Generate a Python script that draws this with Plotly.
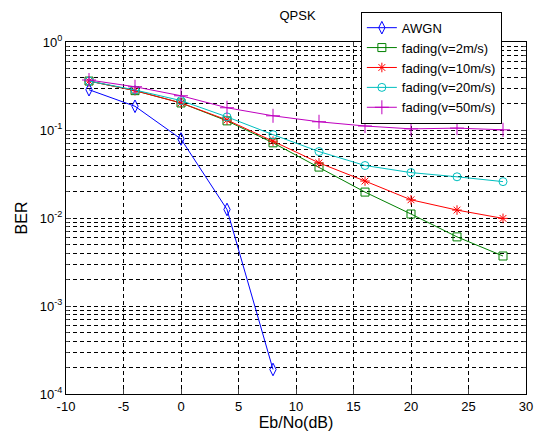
import plotly.graph_objects as go

# ---- data ----
snr_awgn = [-8, -4, 0, 4, 8]
ber_awgn = [0.287, 0.186, 0.079, 0.0125, 1.9e-4]

snr_fading = [-8, -4, 0, 4, 8, 12, 16, 20, 24, 28]
ber_v2 = [0.36, 0.28, 0.203, 0.127, 0.0715, 0.0379, 0.0197, 0.0111, 0.0061, 0.0037]
ber_v10 = [0.36, 0.28, 0.203, 0.13, 0.0746, 0.0423, 0.0263, 0.0161, 0.0123, 0.0099]
ber_v20 = [0.36, 0.285, 0.216, 0.141, 0.0885, 0.0569, 0.0395, 0.0328, 0.0294, 0.0259]
ber_v50 = [0.37, 0.31, 0.245, 0.179, 0.145, 0.124, 0.111, 0.103, 0.105, 0.1005]

x_ticks = [-10, -5, 0, 5, 10, 15, 20, 25, 30]
x_ticktext = ["-10", "-5", "0", "5", "10", "15", "20", "25", "30"]
y_tickvals = [1e-4, 1e-3, 1e-2, 1e-1, 1]
y_ticktext = ["10<sup>-4</sup>", "10<sup>-3</sup>", "10<sup>-2</sup>", "10<sup>-1</sup>", "10<sup>0</sup>"]

FONT = "Arial, Liberation Sans, sans-serif"

series = [
    ("AWGN", snr_awgn, ber_awgn, "#0000FF", "diamond-tall-open", 9),
    ("fading(v=2m/s)", snr_fading, ber_v2, "#008000", "square-open", 8),
    ("fading(v=10m/s)", snr_fading, ber_v10, "#FF0000", "asterisk-open", 8),
    ("fading(v=20m/s)", snr_fading, ber_v20, "#00BFBF", "circle-open", 8),
    ("fading(v=50m/s)", snr_fading, ber_v50, "#BF00BF", "cross-thin-open", 10),
]

fig = go.Figure()
for name, xs, ys, col, sym, sz in series:
    fig.add_trace(go.Scatter(
        x=xs, y=ys, name=name, mode="lines+markers",
        line=dict(color=col, width=1),
        marker=dict(symbol=sym, size=sz, color=col, line=dict(color=col, width=1)),
    ))

grid_dash = "4px,3px"
fig.update_layout(
    width=545, height=441,
    margin=dict(l=66, r=16, t=33, b=46),
    paper_bgcolor="white", plot_bgcolor="white",
    font=dict(family=FONT, size=13, color="black"),
    title=dict(text="QPSK", x=(66 + 529) / 2 / 545, xanchor="center",
               y=1 - 15 / 441, yanchor="middle", yref="container",
               font=dict(size=13, family=FONT, color="black")),
    showlegend=True,
    legend=dict(x=0.641, y=1.086, xanchor="left", yanchor="top",
                bgcolor="white", bordercolor="black", borderwidth=1,
                font=dict(size=13, family=FONT), tracegroupgap=0),
    xaxis=dict(
        range=[-10, 30], tickvals=x_ticks, ticktext=x_ticktext,
        ticks="inside", ticklen=5,
        showline=True, linecolor="black", linewidth=1, mirror="allticks",
        showgrid=True, gridcolor="black", gridwidth=1, griddash=grid_dash,
        zeroline=False, title=dict(text="Eb/No(dB)", standoff=4),
        tickfont=dict(size=13),
    ),
    yaxis=dict(
        type="log", range=[-4, 0], tickvals=y_tickvals, ticktext=y_ticktext,
        ticks="inside", ticklen=5,
        showline=True, linecolor="black", linewidth=1, mirror="allticks",
        showgrid=True, gridcolor="black", gridwidth=1, griddash=grid_dash,
        zeroline=False, title=dict(text="BER", standoff=8),
        minor=dict(showgrid=True, gridcolor="black", gridwidth=1, griddash=grid_dash,
                   ticks="inside", ticklen=3, dtick="D1"),
        tickfont=dict(size=13),
    ),
)

fig.write_html("out.html")
